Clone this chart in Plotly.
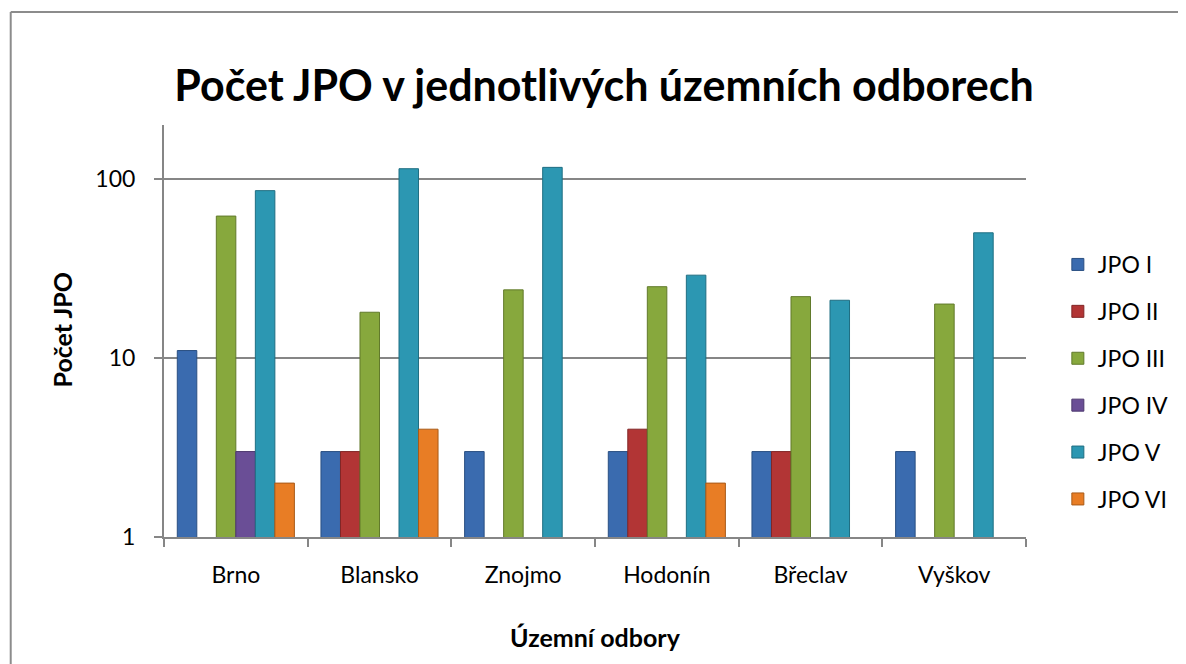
import math
import plotly.graph_objects as go

categories = ["Brno", "Blansko", "Znojmo", "Hodonín", "Břeclav", "Vyškov"]
series_names = ["JPO I", "JPO II", "JPO III", "JPO IV", "JPO V", "JPO VI"]
jpo_i = [11, 3, 3, 3, 3, 3]
jpo_ii = [None, 3, None, 4, 3, None]
jpo_iii = [62, 18, 24, 25, 22, 20]
jpo_iv = [3, None, None, None, None, None]
jpo_v = [86, 114, 116, 29, 21, 50]
jpo_vi = [2, 4, None, 2, None, None]
values = [jpo_i, jpo_ii, jpo_iii, jpo_iv, jpo_v, jpo_vi]
y_ticks = [1, 10, 100]
y_max = 200

colors = ["#3A6BAF", "#B23535", "#87A83D", "#6A4E96", "#2C97B2", "#E87D25"]
edge = ["#2A4F82", "#822626", "#617A2B", "#4C376D", "#1F6E82", "#A85A18"]

# page is offset by the 8px body margin
W, H = 1178, 656
OFF = 8
L, T = 164 - OFF, 125 - OFF
Rr, Bb = 1030 - OFF, 537 - OFF
pw, ph = Rr - L, Bb - T
px = lambda x: (x - OFF - L) / pw
py = lambda y: (Bb - (y - OFF)) / ph

FONT = "Lato, 'Open Sans', sans-serif"
fig = go.Figure()
for i, (name, vals) in enumerate(zip(series_names, values)):
    fig.add_trace(go.Bar(
        x=categories, y=vals, name=name,
        marker=dict(color=colors[i], line=dict(color=edge[i], width=1)),
        legendgroup=name,
    ))

fig.update_layout(
    width=W, height=H,
    margin=dict(l=L, r=W - Rr, t=T, b=H - Bb, pad=0),
    paper_bgcolor="white", plot_bgcolor="white",
    barmode="group", bargap=0.185, bargroupgap=0,
    font=dict(family=FONT, size=23, color="black"),
    title=dict(text="<b>Počet JPO v jednotlivých územních odborech</b>",
               font=dict(size=43, family=FONT),
               x=(604 - OFF) / W, xanchor="center", xref="container",
               y=1 - (86 - OFF) / H, yanchor="middle", yref="container"),
    showlegend=True,
    legend=dict(x=px(1062), xanchor="left", y=py(243), yanchor="top",
                font=dict(size=23), tracegroupgap=14, traceorder="grouped",
                itemwidth=30, bgcolor="rgba(0,0,0,0)"),
    xaxis=dict(
        showline=True, linecolor="#868686", linewidth=2,
        ticks="outside", tickson="boundaries", ticklen=8, tickcolor="#868686", tickwidth=2,
        tickfont=dict(size=23), showgrid=False, ticklabelstandoff=16,
    ),
    yaxis=dict(
        type="log", range=[0, math.log10(y_max)],
        tickvals=y_ticks, ticktext=[str(v) for v in y_ticks],
        showline=True, linecolor="#868686", linewidth=2,
        ticks="outside", ticklen=8, tickcolor="#868686", tickwidth=2,
        showgrid=True, gridcolor="#868686", gridwidth=2,
        tickfont=dict(size=23), zeroline=False, ticklabelstandoff=14,
    ),
    annotations=[
        dict(text="<b>Územní odbory</b>", xref="paper", yref="paper",
             x=0.5, y=py(637), xanchor="center", yanchor="middle",
             showarrow=False, font=dict(size=25, family=FONT)),
        dict(text="<b>Počet JPO</b>", xref="paper", yref="paper",
             x=px(62), y=py(330), xanchor="center", yanchor="middle",
             showarrow=False, textangle=-90, font=dict(size=25, family=FONT)),
    ],
    shapes=[
        dict(type="line", xref="paper", yref="paper", x0=px(10), x1=px(10), y0=py(700), y1=py(12),
             line=dict(color="#8C8C8C", width=2)),
        dict(type="line", xref="paper", yref="paper", x0=px(10), x1=px(1300), y0=py(12), y1=py(12),
             line=dict(color="#8C8C8C", width=2)),
    ],
)

fig.write_html("out.html")
